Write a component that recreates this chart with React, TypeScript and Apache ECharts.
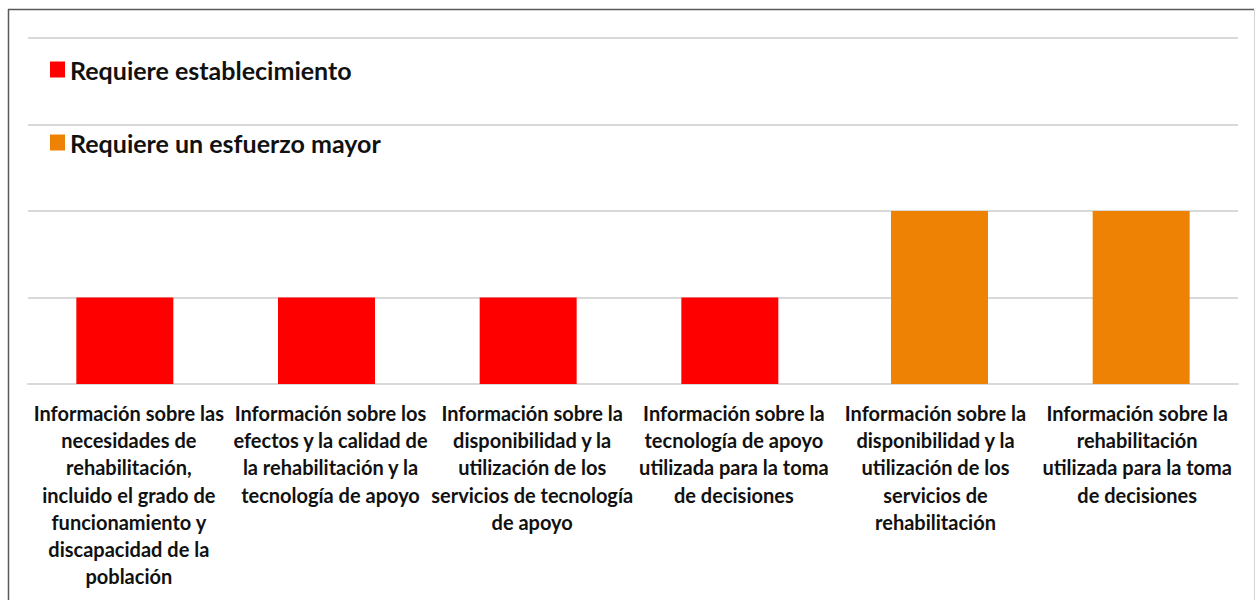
import React, { useEffect, useRef } from "react";
import * as echarts from "echarts";

const categories: string[] = [
  "Información sobre las\nnecesidades de\nrehabilitación,\nincluido el grado de\nfuncionamiento y\ndiscapacidad de la\npoblación",
  "Información sobre los\nefectos y la calidad de\nla rehabilitación y la\ntecnología de apoyo",
  "Información sobre la\ndisponibilidad y la\nutilización de los\nservicios de tecnología\nde apoyo",
  "Información sobre la\ntecnología de apoyo\nutilizada para la toma\nde decisiones",
  "Información sobre la\ndisponibilidad y la\nutilización de los\nservicios de\nrehabilitación",
  "Información sobre la\nrehabilitación\nutilizada para la toma\nde decisiones",
];

const seriesNames: string[] = ["Requiere establecimiento", "Requiere un esfuerzo mayor"];
const establecimiento: (number | null)[] = [1, 1, 1, 1, null, null];
const esfuerzoMayor: (number | null)[] = [null, null, null, null, 2, 2];

const FONT = "Lato, 'Open Sans', sans-serif";

export default function App() {
  const ref = useRef<HTMLDivElement>(null);
  useEffect(() => {
    if (!ref.current) return;
    const chart = echarts.init(ref.current, undefined, { renderer: "svg" });
    const legendText = { fontFamily: FONT, fontWeight: "bold", fontSize: 25, color: "#111111" };
    chart.setOption({
      animation: false,
      backgroundColor: "#ffffff",
      grid: { left: 28, right: 22, top: 38, bottom: 216, containLabel: false },
      legend: [
        {
          data: [seriesNames[0]],
          left: 45,
          top: 52,
          itemWidth: 15,
          itemHeight: 16,
          icon: "rect",
          textStyle: legendText,
        },
        {
          data: [seriesNames[1]],
          left: 45,
          top: 125,
          itemWidth: 15,
          itemHeight: 16,
          icon: "rect",
          textStyle: legendText,
        },
      ],
      xAxis: {
        type: "category",
        data: categories,
        axisTick: { show: false },
        axisLine: { show: true, lineStyle: { color: "#d9d9d9", width: 2 } },
        axisLabel: {
          interval: 0,
          margin: 15,
          fontFamily: FONT,
          fontWeight: "bold",
          fontSize: 20,
          lineHeight: 27.3,
          color: "#111111",
          align: "center",
        },
      },
      yAxis: {
        type: "value",
        min: 0,
        max: 4,
        interval: 1,
        axisLabel: { show: false },
        axisLine: { show: false },
        axisTick: { show: false },
        splitLine: { show: true, lineStyle: { color: "#d9d9d9", width: 2 } },
      },
      series: [
        {
          name: seriesNames[0],
          type: "bar",
          data: establecimiento,
          barWidth: 97,
          barGap: "-91.75%",
          itemStyle: { color: "#ff0000" },
        },
        {
          name: seriesNames[1],
          type: "bar",
          data: esfuerzoMayor,
          barWidth: 97,
          barGap: "-91.75%",
          itemStyle: { color: "#ee8204" },
        },
      ],
      graphic: [
        { type: "line", shape: { x1: 8, y1: 9.5, x2: 1254, y2: 9.5 }, style: { stroke: "#5a5a5a", lineWidth: 1.5 } },
        { type: "line", shape: { x1: 8.5, y1: 9, x2: 8.5, y2: 600 }, style: { stroke: "#5a5a5a", lineWidth: 1.5 } },
        { type: "line", shape: { x1: 1254.5, y1: 10, x2: 1254.5, y2: 600 }, style: { stroke: "#d4d4d4", lineWidth: 1 } },
      ],
    });
    return () => chart.dispose();
  }, []);
  return (
    <div
      ref={ref}
      style={{ position: "fixed", left: 0, top: 0, width: 1260, height: 600, background: "#fff" }}
    />
  );
}
